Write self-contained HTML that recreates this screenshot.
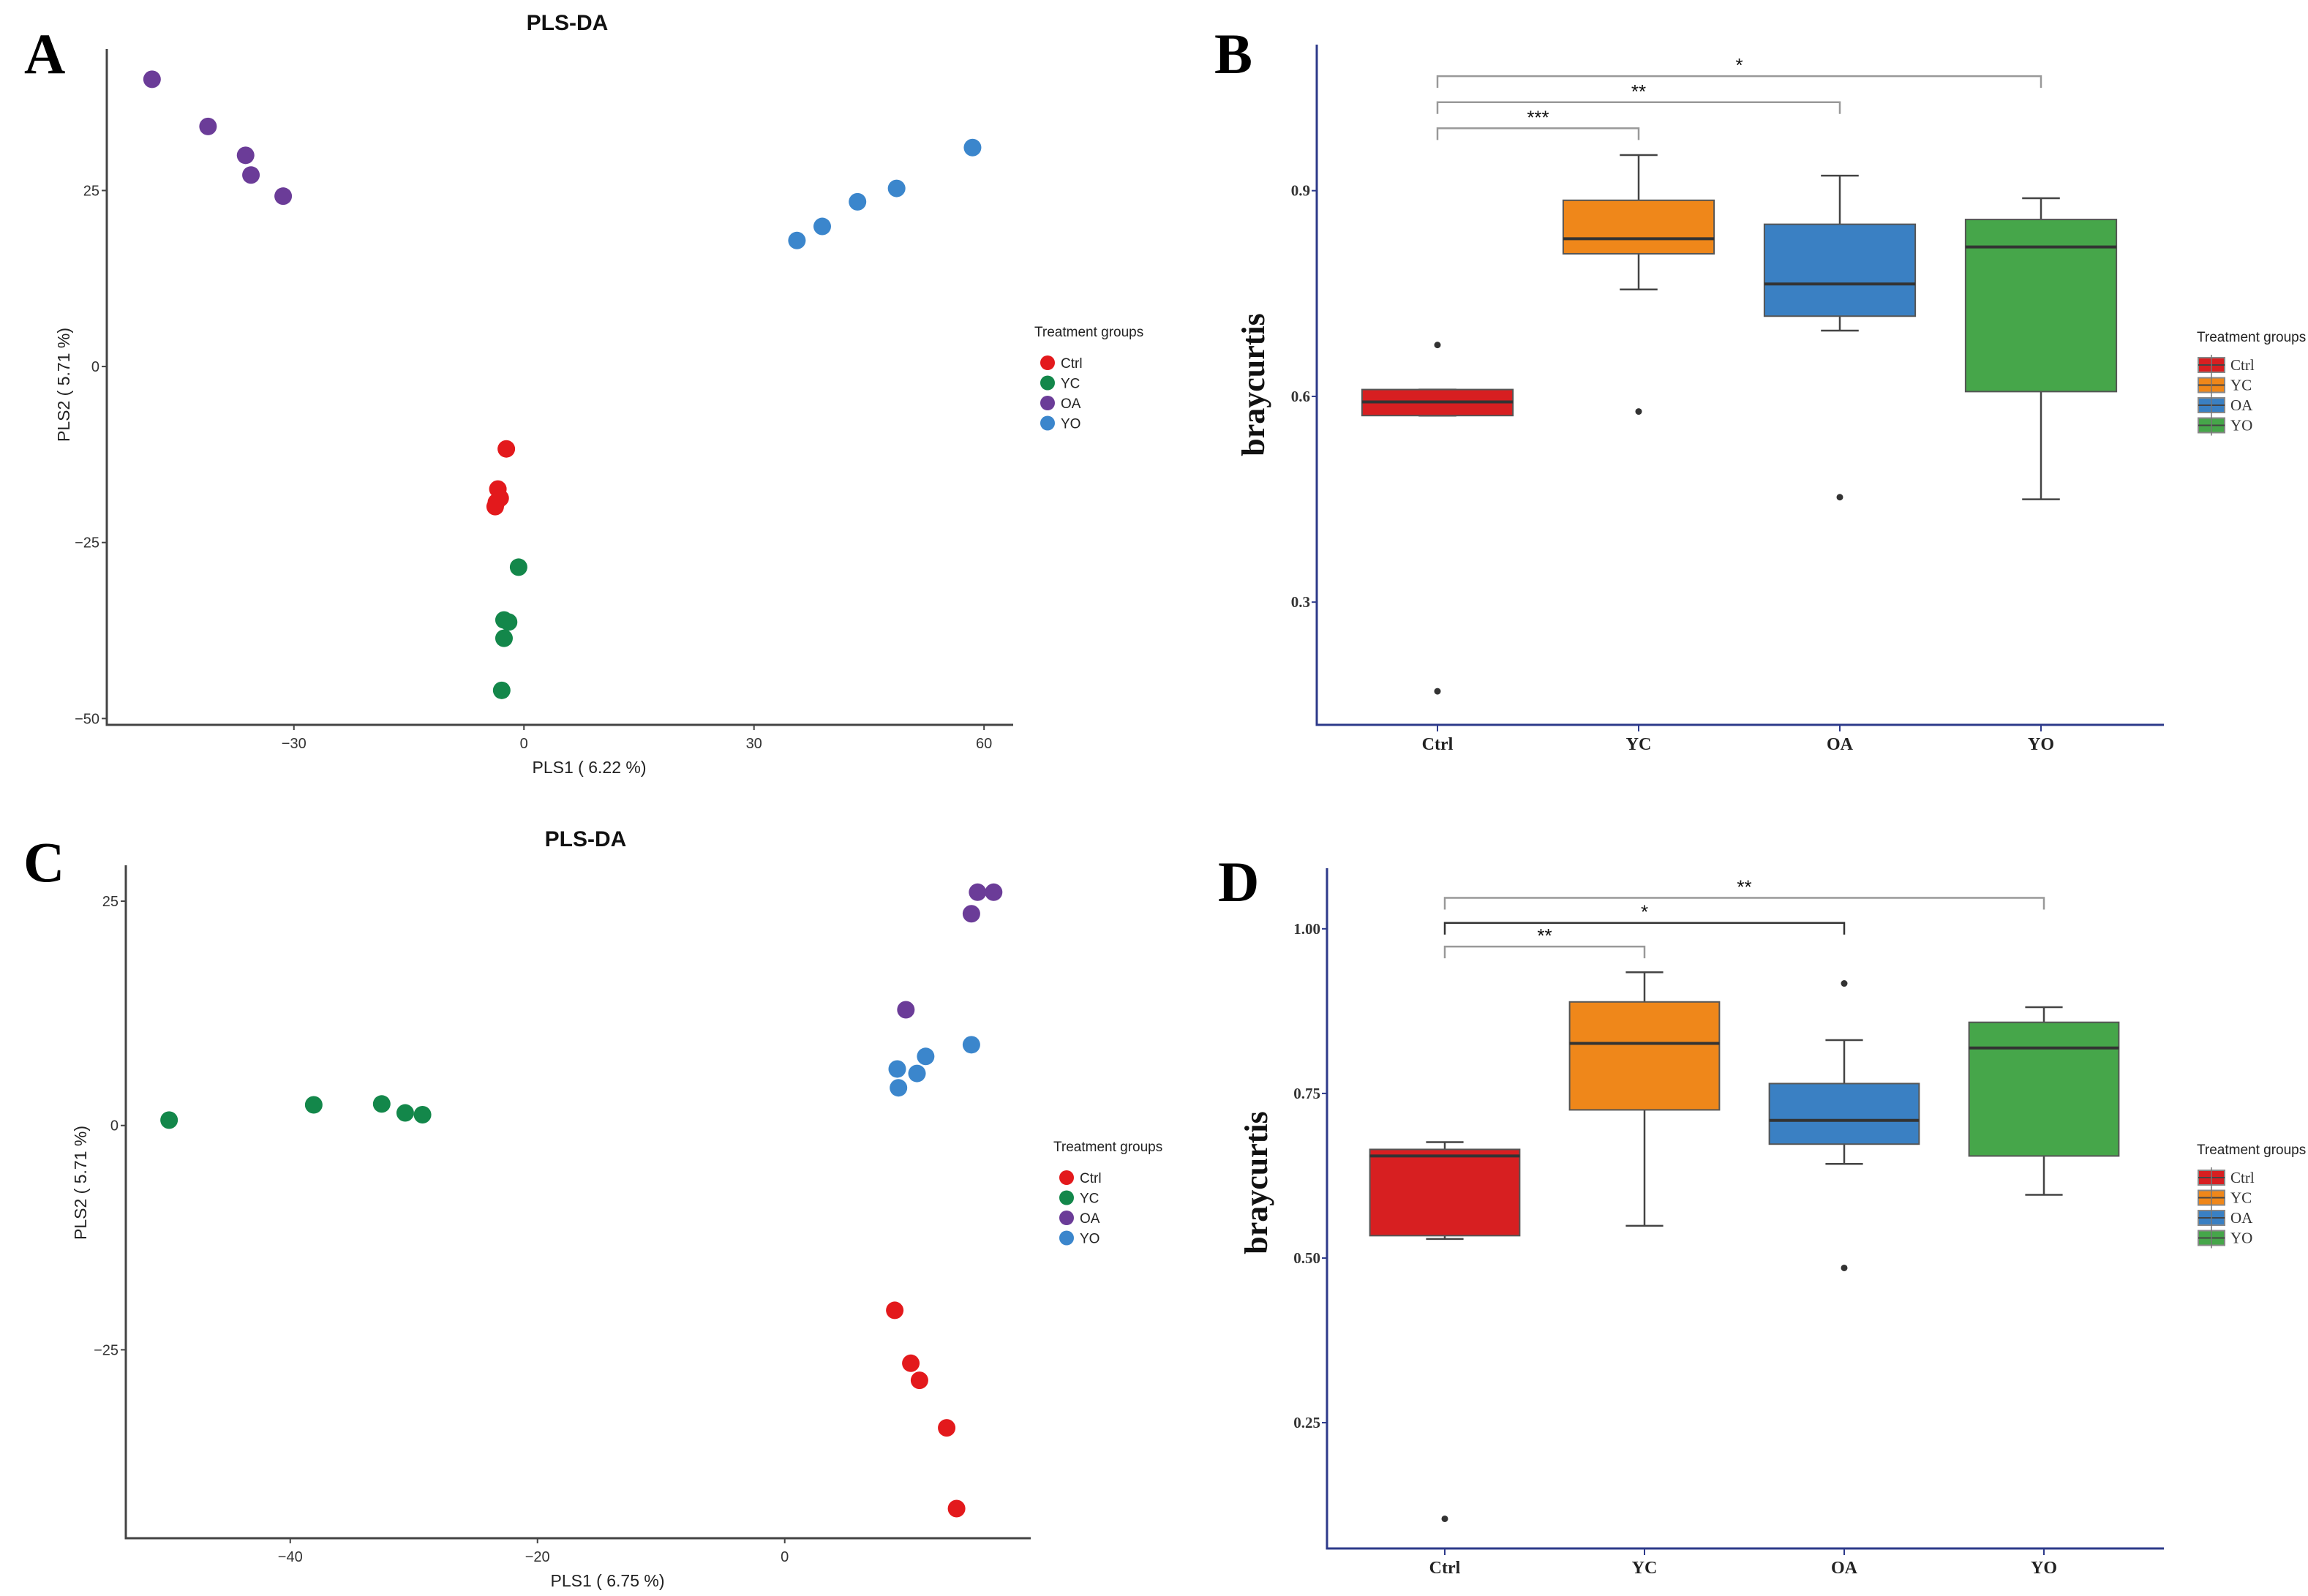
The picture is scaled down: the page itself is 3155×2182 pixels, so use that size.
<!DOCTYPE html>
<html><head><meta charset="utf-8"><style>
html,body{margin:0;padding:0;background:#fff}
svg{display:block}
</style></head><body>
<svg id="fig" width="3155" height="2182" viewBox="0 0 3155 2182" xmlns="http://www.w3.org/2000/svg">
<rect width="3155" height="2182" fill="#fff"/>
</svg>
<script>
// ---------- Panel A data ----------
const groups = ["Ctrl","YC","OA","YO"];
const aCtrlX = [-2.3,-3.4,-3.1,-3.75,-3.6];
const aCtrlY = [-11.7,-17.4,-18.7,-19.9,-19.3];
const aYCX = [-0.7,-2.6,-2.0,-2.6,-2.9];
const aYCY = [-28.5,-36.0,-36.3,-38.6,-46.0];
const aOAX = [-48.5,-41.2,-36.3,-35.6,-31.4];
const aOAY = [40.8,34.1,30.0,27.2,24.2];
const aYOX = [35.6,38.9,43.5,48.6,58.5];
const aYOY = [17.9,19.9,23.4,25.3,31.1];
const aXTicks = [-30,0,30,60];
const aYTicks = [25,0,-25,-50];
// ---------- Panel C data ----------
const cCtrlX = [8.9,10.2,10.9,13.1,13.9];
const cCtrlY = [-20.6,-26.5,-28.4,-33.7,-42.7];
const cYCX = [-49.8,-38.1,-32.6,-30.7,-29.3];
const cYCY = [0.6,2.3,2.4,1.4,1.2];
const cOAX = [15.6,16.9,15.1,9.8];
const cOAY = [26.0,26.0,23.6,12.9];
const cYOX = [15.1,11.4,9.1,10.7,9.2];
const cYOY = [9.0,7.7,6.3,5.8,4.2];
const cXTicks = [-40,-20,0];
const cYTicks = [25,0,-25];
// ---------- Panel B data (min, q1, median, q3, max) ----------
const bMin = [0.572,0.756,0.696,0.450];
const bQ1 = [0.572,0.808,0.717,0.607];
const bMed = [0.592,0.830,0.764,0.818];
const bQ3 = [0.610,0.886,0.851,0.858];
const bMax = [0.610,0.952,0.922,0.889];
const bOutGroup = [0,0,1,2];
const bOutVal = [0.675,0.170,0.578,0.453];
const bYTicks = [0.3,0.6,0.9];
const bSigFrom = [0,0,0];
const bSigTo = [1,2,3];
const bSigY = [0.991,1.029,1.067];
const bSigLab = ["***","**","*"];
// ---------- Panel D data ----------
const dMin = [0.529,0.549,0.643,0.596];
const dQ1 = [0.534,0.725,0.673,0.655];
const dMed = [0.655,0.826,0.709,0.819];
const dQ3 = [0.665,0.889,0.765,0.858];
const dMax = [0.676,0.934,0.831,0.881];
const dOutGroup = [0,2,2];
const dOutVal = [0.104,0.917,0.485];
const dYTicks = [0.25,0.50,0.75,1.00];
const dYTickLab = ["0.25","0.50","0.75","1.00"];
const dSigFrom = [0,0,0];
const dSigTo = [1,2,3];
const dSigY = [0.973,1.009,1.047];
const dSigLab = ["**","*","**"];

const NS="http://www.w3.org/2000/svg";
const svg=document.getElementById('fig');
function el(tag,attrs,parent,text){
  const e=document.createElementNS(NS,tag);
  for(const k in attrs) e.setAttribute(k,attrs[k]);
  if(text!==undefined) e.textContent=text;
  (parent||svg).appendChild(e);return e;
}
const dotCol=["#e3191c","#13874a","#6b3c98","#3b86cc"];
const boxCol=["#d71f21","#ef871a","#3a80c3","#46a64a"];
const SANS='"Liberation Sans", sans-serif';
const SERIF='"Liberation Serif", serif';

function scatterPanel(o){
  const g=el('g',{});
  
  
  const sx=v=>o.L+(v-o.x0)/(o.x1-o.x0)*(o.R-o.L);
  const sy=v=>o.B-(v-o.y0)/(o.y1-o.y0)*(o.B-o.T);
  const t=el('text',{x:(o.L+o.R)/2+10,y:o.T-26,'font-family':SANS,'font-weight':'bold','font-size':30,'text-anchor':'middle',fill:'#111'},g,'PLS-DA');
  
  const pl=el('text',{x:o.letterX,y:o.letterY,'font-family':SERIF,'font-weight':'bold','font-size':78,fill:'#000'},g,o.letter);
  
  const ax=el('path',{d:`M${o.L},${o.T} V${o.B} H${o.R}`,stroke:'#444',fill:'none','stroke-width':3},g);
  
  o.xt.forEach(v=>{
    el('line',{x1:sx(v),x2:sx(v),y1:o.B,y2:o.B+7,stroke:'#444','stroke-width':2},g);
    const tl=el('text',{x:sx(v),y:o.B+32,'font-family':SANS,'font-size':20,'text-anchor':'middle',fill:'#333'},g,v<0?'−'+(-v):String(v));
    
  });
  o.yt.forEach(v=>{
    el('line',{x1:o.L-7,x2:o.L,y1:sy(v),y2:sy(v),stroke:'#444','stroke-width':2},g);
    const tl=el('text',{x:o.L-10,y:sy(v)+7,'font-family':SANS,'font-size':20,'text-anchor':'end',fill:'#333'},g,v<0?'−'+(-v):String(v));
    
  });
  const xl=el('text',{x:(o.L+o.R)/2+40,y:o.B+66,'font-family':SANS,'font-size':23,'text-anchor':'middle',fill:'#222'},g,o.xlab);
  
  const yl=el('text',{x:0,y:0,transform:`translate(${o.ylx},${o.yly}) rotate(-90)`,'font-family':SANS,'font-size':23,'text-anchor':'middle',fill:'#222'},g,'PLS2 ( 5.71 %)');
  
  o.series.forEach((s,gi)=>{
    s[0].forEach((xv,i)=>{
      const c=el('circle',{cx:sx(xv),cy:sy(s[1][i]),r:12,fill:dotCol[gi]},g);
      
      
    });
  });
  const lt=el('text',{x:o.legX-16,y:o.legY,'font-family':SANS,'font-size':19,fill:'#222'},g,'Treatment groups');
  
  groups.forEach((n,i)=>{
    const yy=o.legY+36+i*27.5;
    const c=el('circle',{cx:o.legX+2,cy:yy,r:10,fill:dotCol[i]},g);
    
    const lx=el('text',{x:o.legX+20,y:yy+7,'font-family':SANS,'font-size':19,fill:'#222'},g,n);
    
  });
}

function boxPanel(o){
  const g=el('g',{});
  
  
  const sy=v=>o.B-(v-o.y0)/(o.y1-o.y0)*(o.B-o.T);
  const sx=i=>o.c0+i*o.step;
  const bw=o.step*0.75;
  const pl=el('text',{x:o.letterX,y:o.letterY,'font-family':SERIF,'font-weight':'bold','font-size':78,fill:'#000'},g,o.letter);
  
  const ax=el('path',{d:`M${o.L},${o.T} V${o.B} H${o.R}`,stroke:'#2d3a8a',fill:'none','stroke-width':3},g);
  
  o.yt.forEach((v,i)=>{
    el('line',{x1:o.L-7,x2:o.L,y1:sy(v),y2:sy(v),stroke:'#2d3a8a','stroke-width':2},g);
    const tl=el('text',{x:o.L-9,y:sy(v)+7,'font-family':SERIF,'font-weight':'bold','font-size':21,'text-anchor':'end',fill:'#333'},g,o.ytl[i]);
    
  });
  groups.forEach((n,i)=>{
    el('line',{x1:sx(i),x2:sx(i),y1:o.B,y2:o.B+9,stroke:'#2d3a8a','stroke-width':2},g);
    const tl=el('text',{x:sx(i),y:o.B+34,'font-family':SERIF,'font-weight':'bold','font-size':24,'text-anchor':'middle',fill:'#222'},g,n);
    
  });
  const yl=el('text',{x:0,y:0,transform:`translate(${o.ylx},${o.yly}) rotate(-90)`,'font-family':SERIF,'font-weight':'bold','font-size':44,'text-anchor':'middle',fill:'#111'},g,'braycurtis');
  
  groups.forEach((n,i)=>{
    const x=sx(i);
    el('line',{x1:x,x2:x,y1:sy(o.mx[i]),y2:sy(o.q3[i]),stroke:'#444','stroke-width':2.5},g);
    el('line',{x1:x,x2:x,y1:sy(o.q1[i]),y2:sy(o.mn[i]),stroke:'#444','stroke-width':2.5},g);
    el('line',{x1:x-bw/8,x2:x+bw/8,y1:sy(o.mx[i]),y2:sy(o.mx[i]),stroke:'#444','stroke-width':2.5},g);
    el('line',{x1:x-bw/8,x2:x+bw/8,y1:sy(o.mn[i]),y2:sy(o.mn[i]),stroke:'#444','stroke-width':2.5},g);
    const r=el('rect',{x:x-bw/2,y:sy(o.q3[i]),width:bw,height:sy(o.q1[i])-sy(o.q3[i]),fill:boxCol[i],stroke:'#555','stroke-width':2},g);
    
    const m=el('line',{x1:x-bw/2,x2:x+bw/2,y1:sy(o.md[i]),y2:sy(o.md[i]),stroke:'#333','stroke-width':4},g);
    
  });
  o.og.forEach((gi,k)=>{
    const c=el('circle',{cx:sx(gi),cy:sy(o.ov[k]),r:4.5,fill:'#333'},g);
    
  });
  o.sf.forEach((f,k)=>{
    const y=sy(o.sy[k]),x1=sx(f),x2=sx(o.st[k]);
    const col=o.sc[k];
    const p=el('path',{d:`M${x1},${y+16} V${y} H${x2} V${y+16}`,stroke:col,fill:'none','stroke-width':2.5},g);
    
    const t=el('text',{x:(x1+x2)/2,y:y-6,'font-family':SANS,'font-size':26,'text-anchor':'middle',fill:'#111'},g,o.sl[k]);
    
  });
  const lt=el('text',{x:o.legX-18,y:o.legY,'font-family':SANS,'font-size':19,fill:'#222'},g,'Treatment groups');
  
  groups.forEach((n,i)=>{
    const yy=o.legY+32+i*27.5;
    const r=el('rect',{x:o.legX-16,y:yy-10,width:36,height:20,fill:boxCol[i],stroke:'#888','stroke-width':2},g);
    
    el('line',{x1:o.legX-16,x2:o.legX+20,y1:yy,y2:yy,stroke:'#444','stroke-width':2},g);
    el('line',{x1:o.legX+2,x2:o.legX+2,y1:yy-14,y2:yy+14,stroke:'#777','stroke-width':1.5},g);
    const lx=el('text',{x:o.legX+28,y:yy+7,'font-family':SERIF,'font-size':21,fill:'#333'},g,n);
    
  });
}

scatterPanel({name:'panel-a-plsda',letter:'A',letterX:33,letterY:100,
  L:146,R:1385,T:67,B:991,x0:-54.4,x1:63.8,y0:-50.9,y1:45.1,xt:aXTicks,yt:aYTicks,
  xlab:'PLS1 ( 6.22 %)',ylx:95,yly:526,legX:1430,legY:460,
  series:[[aCtrlX,aCtrlY],[aYCX,aYCY],[aOAX,aOAY],[aYOX,aYOY]]});
scatterPanel({name:'panel-c-plsda',letter:'C',letterX:32,letterY:1205,
  L:172,R:1409,T:1183,B:2103,x0:-53.3,x1:19.9,y0:-46.0,y1:29.0,xt:cXTicks,yt:cYTicks,
  xlab:'PLS1 ( 6.75 %)',ylx:118,yly:1617,legX:1456,legY:1574,
  series:[[cCtrlX,cCtrlY],[cYCX,cYCY],[cOAX,cOAY],[cYOX,cYOY]]});
boxPanel({name:'panel-b-boxplot',letter:'B',letterX:1660,letterY:100,
  L:1800,R:2958,T:61,B:991,y0:0.121,y1:1.113,c0:1965,step:275,
  yt:bYTicks,ytl:["0.3","0.6","0.9"],ylx:1728,yly:526,
  mn:bMin,q1:bQ1,md:bMed,q3:bQ3,mx:bMax,og:bOutGroup,ov:bOutVal,
  sf:bSigFrom,st:bSigTo,sy:bSigY,sl:bSigLab,sc:['#999','#999','#999'],legX:3021,legY:467});
boxPanel({name:'panel-d-boxplot',letter:'D',letterX:1665,letterY:1232,
  L:1814,R:2958,T:1187,B:2117,y0:0.059,y1:1.092,c0:1975,step:273,
  yt:dYTicks,ytl:dYTickLab,ylx:1732,yly:1617,
  mn:dMin,q1:dQ1,md:dMed,q3:dQ3,mx:dMax,og:dOutGroup,ov:dOutVal,
  sf:dSigFrom,st:dSigTo,sy:dSigY,sl:dSigLab,sc:['#999','#333','#999'],legX:3021,legY:1578});
</script>
</body></html>
